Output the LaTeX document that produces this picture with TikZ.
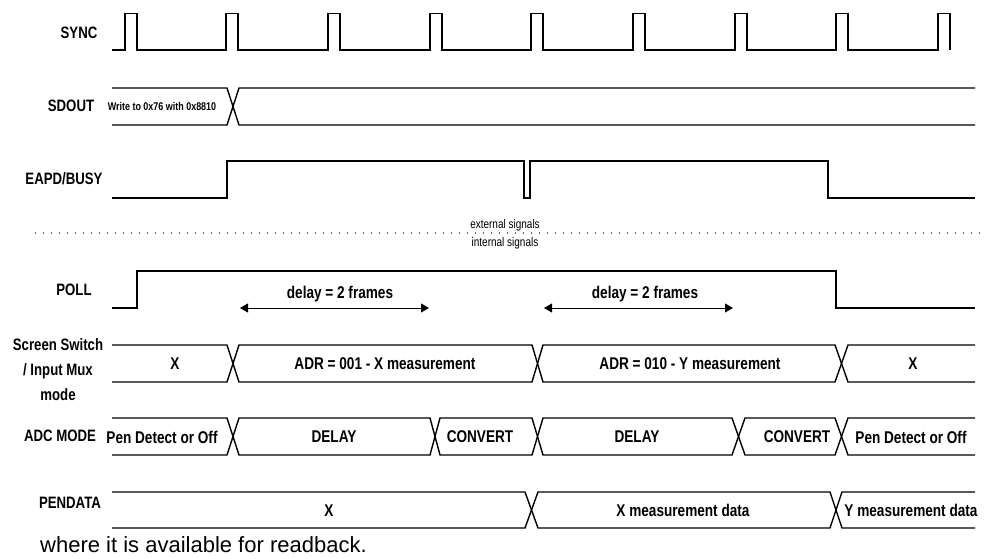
\documentclass[tikz,border=0pt]{standalone}
\usepackage{fontspec}
\setmainfont{Liberation Sans}
\newfontfamily\narrow{Liberation Sans}[FakeStretch=0.8]
\usetikzlibrary{arrows.meta}
\begin{document}
\begin{tikzpicture}[x=1pt,y=-1pt,
  sig/.style={line width=1.4pt,line join=miter},
  lbl/.style={inner sep=0pt,font=\narrow\bfseries\fontsize{16.5}{19}\selectfont,align=center},
  txt/.style={inner sep=0pt,font=\narrow\bfseries\fontsize{17}{19}\selectfont},
  small/.style={inner sep=0pt,font=\narrow\bfseries\fontsize{11.2}{13}\selectfont},
  note/.style={inner sep=0pt,font=\narrow\fontsize{12.5}{14}\selectfont},
  dimarrow/.style={line width=1pt,{Triangle[length=8pt,width=9pt]}-{Triangle[length=8pt,width=9pt]}}]
\useasboundingbox (0,0) rectangle (989,558);
% signal labels
\node[lbl] (lsync) at (79,33) {SYNC};
\node[lbl] (lsdout) at (71,106) {SDOUT};
\node[lbl] (leapd) at (64,179) {EAPD/BUSY};
\node[lbl] (lpoll) at (74,290) {POLL};
\node[lbl,font=\narrow\bfseries\fontsize{16.5}{25}\selectfont] (lscr) at (58,370) {Screen Switch\\/ Input Mux\\mode};
\node[lbl] (ladc) at (60,436) {ADC MODE};
\node[lbl] (lpen) at (70,503) {PENDATA};
% SYNC
\draw[sig] (112,50) foreach \x in {125,226,328,430,531,633,735,836} { -- (\x,50) -- (\x,13.5) -- (\x+12,13.5) -- (\x+12,50) }
  -- (938,50) -- (938,13.5) -- (950,13.5) -- (950,50);
% SDOUT
\draw[sig] (112,88) -- (227,88) -- (239,125) -- (975,125);
\draw[sig] (112,125) -- (227,125) -- (239,88) -- (975,88);
\node[small] (wr) at (162,106) {Write to 0x76 with 0x8810};
% EAPD/BUSY
\draw[sig] (112,198) -- (227,198) -- (227,161) -- (524,161) -- (524,198) -- (530,198) -- (530,161) -- (828,161) -- (828,198) -- (975,198);
% separator
\draw[line width=1.2pt,gray!80!black,dash pattern=on 1.2pt off 6.8pt] (35,233) -- (980,233);
\node[note] (ext) at (505,225) {external signals};
\node[note] (int) at (505,243) {internal signals};
% POLL
\draw[sig] (112,308) -- (137,308) -- (137,271) -- (836,271) -- (836,308) -- (975,308);
\coordinate (d1l) at (240,308);
\coordinate (d1r) at (429,308);
\coordinate (d2l) at (544,308);
\coordinate (d2r) at (733,308);
\draw[dimarrow] (d1l) -- (d1r);
\draw[dimarrow] (d2l) -- (d2r);
\node[txt] (dl1) at (340,294) {delay = 2 frames};
\node[txt] (dl2) at (645,294) {delay = 2 frames};
% Screen switch bus
\draw[sig] (112,345) -- (227,345) -- (239,382) -- (532,382) -- (543,345) -- (835,345) -- (848,382) -- (975,382);
\draw[sig] (112,382) -- (227,382) -- (239,345) -- (532,345) -- (543,382) -- (835,382) -- (848,345) -- (975,345);
\node[txt] (s1) at (175,364) {X};
\node[txt] (s2) at (385,364) {ADR = 001 - X measurement};
\node[txt] (s3) at (690,364) {ADR = 010 - Y measurement};
\node[txt] (s4) at (913,364) {X};
% ADC MODE bus
\draw[sig] (112,418) -- (227,418) -- (239,455) -- (430,455) -- (440,418) -- (532,418) -- (543,455) -- (732,455) -- (745,418) -- (835,418) -- (848,455) -- (975,455);
\draw[sig] (112,455) -- (227,455) -- (239,418) -- (430,418) -- (440,455) -- (532,455) -- (543,418) -- (732,418) -- (745,455) -- (835,455) -- (848,418) -- (975,418);
\node[txt] (a1) at (162,437) {Pen Detect or Off};
\node[txt] (a2) at (334,437) {DELAY};
\node[txt] (a3) at (480,437) {CONVERT};
\node[txt] (a4) at (637,437) {DELAY};
\node[txt] (a5) at (797,437) {CONVERT};
\node[txt] (a6) at (911,437) {Pen Detect or Off};
% PENDATA bus
\draw[sig] (112,492) -- (525,492) -- (538,528) -- (830,528) -- (842,492) -- (975,492);
\draw[sig] (112,528) -- (525,528) -- (538,492) -- (830,492) -- (842,528) -- (975,528);
\node[txt] (p1) at (329,511) {X};
\node[txt] (p2) at (683,510) {X measurement data};
\node[txt] (p3) at (911,510) {Y measurement data};
% footer
\node[inner sep=0pt,anchor=base west,font=\fontsize{22}{24}\selectfont] (foot) at (40,552) {where it is available for readback.};
\end{tikzpicture}
\end{document}
